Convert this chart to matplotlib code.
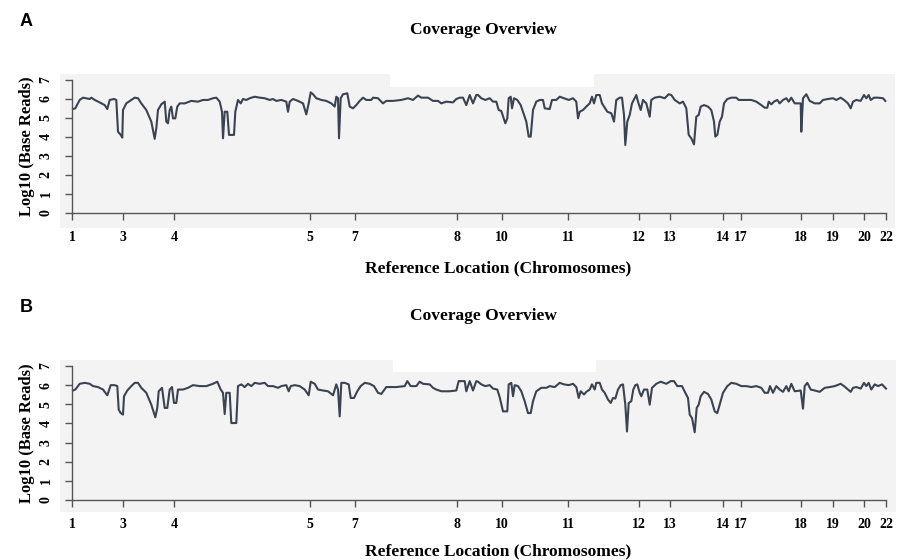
import numpy as np
import matplotlib
matplotlib.use('Agg')
import matplotlib.pyplot as plt
from matplotlib.patches import Rectangle

# posiciones de los cromosomas (unidades arbitrarias a lo largo del genoma)
chrom_pos = [0, 51, 102, 238, 283, 385, 430, 496, 567, 598, 651, 669, 729, 761, 792, 814]
chrom_labels = ['1', '3', '4', '5', '7', '8', '10', '11', '12', '13', '14', '17', '18', '19', '20', '22']

# Panel A: cobertura log10
pos_a = [1.0, 3.3, 7.7, 11.0, 17.7, 19.3, 22.7, 27.7, 32.7, 35.3, 37.7, 42.0, 44.3, 46.0, 48.7, 50.3,
         51.0, 54.3, 59.3, 62.7, 66.0, 69.3, 74.3, 79.3, 82.7, 84.3, 86.0, 89.3, 92.7, 94.3, 96.0, 97.7,
         99.3, 101.0, 103.3, 105.3, 107.7, 112.7, 119.3, 126.0, 131.0, 136.0, 141.0, 144.3, 147.7, 150.0,
         151.0, 152.7, 155.3, 157.0, 162.0, 163.3, 166.0, 168.7, 171.0, 174.3, 177.7, 182.7, 187.7, 192.7,
         197.7, 201.0, 204.3, 209.3, 214.3, 216.0, 217.7, 221.0, 226.0, 231.0, 234.3, 236.7, 238.7, 241.0,
         244.3, 249.3, 254.3, 259.3, 262.7, 264.3, 266.0, 267.0, 268.7, 271.0, 275.3, 277.7, 281.0, 284.3,
         287.7, 291.0, 294.3, 299.3, 301.0, 306.0, 311.0, 314.3, 321.0, 329.3, 336.0, 341.0, 346.0, 349.3,
         356.0, 361.0, 366.0, 369.3, 374.3, 381.0, 384.3, 387.7, 391.0, 394.3, 397.7, 401.0, 404.3,
         406.0, 409.3, 413.3, 417.7, 421.0, 424.3, 426.7, 429.3, 433.3, 435.3, 436.7, 438.7, 440.0, 442.0,
         445.3, 448.7, 451.0, 454.3, 456.7, 458.7, 461.0, 464.3, 467.7, 471.0, 472.7, 477.7, 480.0, 484.3,
         487.7, 492.0, 496.7, 501.0, 504.3, 506.0, 507.7, 511.0, 514.3, 517.7, 520.0, 522.0, 524.3, 527.7,
         530.0, 532.0, 535.3, 539.3, 542.0, 544.3, 547.7, 550.0, 552.0, 553.3, 555.3, 557.7, 560.0, 562.7,
         564.3, 566.0, 568.7, 571.0, 574.3, 577.7, 579.3, 582.7, 587.7, 592.7, 596.7, 599.3, 602.7, 607.7,
         611.0, 614.3, 616.7, 619.3, 622.0, 624.3, 626.7, 628.7, 632.0, 636.0, 639.3, 642.0, 643.3, 645.3,
         647.7, 650.0, 652.0, 655.3, 659.3, 664.3, 666.7, 672.7, 679.3, 684.3, 689.3, 692.7, 695.3, 696.7,
         699.3, 702.0, 705.3, 707.7, 711.0, 714.3, 716.7, 719.3, 722.7, 728.7, 729.3, 731.0, 734.3, 737.7,
         742.7, 747.7, 751.0, 756.0, 761.0, 764.3, 768.7, 772.0, 776.0, 778.7, 781.0, 784.3, 788.7, 792.0,
         794.3, 796.7, 798.7, 802.0, 806.0, 811.0, 813.3]
cov_a = [5.47, 5.51, 5.95, 6.07, 6.00, 6.07, 5.95, 5.82, 5.68, 5.47, 5.95, 6.00, 5.95, 4.28, 4.11, 3.97,
         5.42, 5.77, 5.95, 6.07, 6.04, 5.77, 5.42, 4.81, 3.90, 4.46, 5.42, 5.72, 5.86, 4.81, 4.72, 5.42,
         5.60, 4.98, 4.98, 5.60, 5.77, 5.77, 5.90, 5.86, 5.95, 5.95, 6.04, 6.07, 5.86, 5.33,
         3.93, 5.33, 5.33, 4.11, 4.11, 5.33, 5.95, 5.77, 6.00, 5.95, 6.04, 6.12, 6.07, 6.04,
         5.95, 6.00, 5.90, 5.95, 5.86, 5.33, 5.86, 6.00, 5.90, 5.77, 5.19, 5.77, 6.35, 6.25,
         6.04, 5.95, 5.90, 5.77, 5.60, 6.12, 6.04, 3.93, 6.04, 6.25, 6.30, 5.60, 5.51, 5.68,
         5.90, 6.07, 5.95, 5.95, 6.07, 6.04, 5.77, 5.90, 5.90, 5.95, 6.04, 5.95, 6.18, 6.07,
         6.07, 5.90, 5.90, 5.77, 5.86, 5.82, 6.00, 6.07, 6.07, 5.68, 6.21, 5.77, 6.21,
         6.21, 6.04, 5.95, 6.04, 5.86, 5.86, 5.42, 5.37, 4.72, 4.98, 6.04, 6.12, 5.51, 6.04,
         5.95, 5.68, 5.33, 4.81, 4.02, 4.02, 5.42, 5.86, 5.95, 5.95, 5.51, 5.47, 5.95, 5.95,
         6.12, 6.04, 5.95, 6.04, 5.86, 4.98, 5.33, 5.42, 5.60, 5.77, 6.12, 5.77, 6.21, 6.21,
         5.77, 5.60, 5.33, 5.25, 4.81, 5.95, 6.07, 6.07, 5.16, 3.58, 4.81, 5.16, 5.77, 6.04,
         6.21, 5.86, 5.42, 5.95, 5.77, 5.07, 5.95, 6.07, 6.12, 6.04, 6.25, 6.21, 5.95, 5.77,
         5.86, 5.51, 4.11, 3.93, 3.61, 5.07, 5.16, 5.60, 5.68, 5.60, 5.42, 4.81, 4.02, 4.11,
         4.81, 5.07, 5.77, 6.00, 6.07, 6.07, 5.95, 5.95, 5.95, 5.86, 5.68, 5.54, 5.54, 5.86,
         5.72, 5.86, 5.95, 5.77, 5.95, 6.04, 5.86, 6.07, 5.77, 5.77, 4.28, 6.04, 6.25, 5.90,
         5.77, 5.77, 5.95, 6.00, 6.04, 5.95, 6.07, 5.95, 5.77, 5.51, 5.86, 5.95, 5.90, 6.21,
         6.04, 6.21, 5.95, 6.07, 6.07, 6.04, 5.90]

# Panel B
pos_b = [1.0, 3.3, 7.7, 12.7, 17.7, 21.0, 26.0, 31.0, 35.3, 38.7, 42.7, 45.3, 46.7, 48.7, 51.0, 52.0,
         55.3, 59.3, 62.7, 66.0, 69.3, 74.3, 79.3, 83.3, 85.3, 86.7, 90.0, 92.7, 95.3, 97.7, 100.0, 102.0,
         104.3, 106.0, 111.0, 116.0, 121.0, 127.7, 134.3, 141.0, 145.3, 148.7, 151.0, 152.7, 154.3, 157.7,
         159.3, 164.3, 166.0, 169.3, 172.7, 176.0, 179.3, 182.7, 187.7, 192.7, 196.0, 201.0, 206.0, 209.3,
         214.3, 216.7, 218.7, 222.7, 227.7, 232.7, 236.7, 238.7, 242.7, 246.0, 251.0, 256.0, 261.0, 264.3,
         266.0, 267.7, 269.3, 272.7, 276.7, 278.7, 282.0, 285.3, 288.7, 292.7, 297.7, 302.0, 306.0, 309.3,
         314.3, 324.3, 332.7, 335.3, 338.7, 344.3, 347.7, 351.0, 357.7, 361.0, 364.3, 369.3, 377.7, 384.3,
         386.7, 392.7, 394.3, 397.7, 401.0, 404.3,
         406.0, 409.3, 413.3, 417.7, 421.0, 425.3, 427.7, 431.0, 435.3, 436.7, 439.3, 441.0, 442.7, 446.0,
         449.3, 452.7, 456.0, 458.7, 461.0, 464.3, 469.3, 474.3, 477.7, 482.7, 487.7, 492.0, 496.7, 501.0,
         504.3, 506.7, 508.7, 512.0, 514.3, 517.7, 520.0, 522.7, 524.3, 527.7, 530.0, 532.7, 536.0, 538.7,
         541.0, 543.3, 546.0, 548.7, 551.0, 553.3, 555.0, 556.7, 559.3, 561.3, 563.3, 565.3, 567.7, 569.3,
         572.0, 575.3, 577.7, 580.0, 584.3, 588.7, 594.3, 598.7, 602.0, 605.3, 610.0, 613.3, 616.0, 617.7,
         620.0, 622.7, 624.7, 626.7, 628.7, 632.0, 636.0, 639.3, 642.7, 645.3, 647.7, 651.0, 655.3, 659.3,
         664.3, 669.3, 674.3, 679.3, 684.3, 689.3, 692.7, 696.0, 698.0, 701.0, 704.3, 707.7, 711.0, 714.3,
         716.7, 719.3, 722.7, 728.7, 731.0, 732.7, 735.3, 738.7, 742.7, 747.7, 752.7, 757.7, 762.7, 768.7,
         772.0, 776.0, 778.7, 781.0, 784.3, 788.7, 792.0, 794.3, 796.7, 799.3, 802.7, 806.0, 810.0, 814.0]
cov_b = [5.72, 5.77, 6.07, 6.12, 6.07, 5.95, 5.90, 5.77, 5.47, 6.00, 6.00, 5.95, 4.72, 4.54, 4.46, 5.42,
         5.72, 5.95, 6.12, 6.12, 5.86, 5.60, 4.98, 4.32, 4.81, 5.68, 5.86, 4.81, 4.81, 5.77, 5.90, 5.07,
         5.07, 5.77, 5.77, 5.86, 6.00, 5.95, 5.95, 6.07, 6.18, 5.77, 5.60, 4.49, 5.60, 5.60,
         4.02, 4.02, 5.95, 6.04, 5.90, 6.07, 5.95, 6.12, 6.07, 6.12, 5.95, 5.95, 5.86, 5.95,
         6.00, 5.68, 5.95, 6.00, 5.95, 5.77, 5.47, 6.18, 6.07, 5.77, 5.72, 5.68, 5.47, 6.04,
         5.77, 4.37, 6.12, 6.12, 6.04, 5.33, 5.33, 5.68, 5.95, 6.12, 6.07, 5.95, 5.60, 5.54,
         5.90, 5.90, 5.95, 6.21, 5.95, 5.95, 6.18, 6.07, 6.04, 5.86, 5.77, 5.68, 5.68, 5.72,
         6.21, 6.21, 5.68, 6.21, 5.72, 6.21,
         6.18, 6.04, 5.95, 6.00, 5.82, 5.77, 5.37, 4.63, 4.63, 6.04, 6.12, 5.42, 6.00, 5.95,
         5.68, 5.16, 4.54, 4.54, 5.16, 5.68, 5.86, 5.86, 5.95, 5.90, 6.12, 6.04, 6.00, 6.07,
         5.90, 5.33, 5.68, 5.51, 5.65, 5.77, 6.04, 5.77, 6.12, 6.12, 5.77, 5.60, 5.25, 5.07,
         5.33, 5.30, 5.77, 6.00, 6.04, 4.98, 3.58, 5.07, 5.16, 5.77, 6.00, 6.04, 5.60, 5.42,
         5.77, 5.77, 4.98, 5.86, 6.07, 6.18, 6.07, 6.21, 6.21, 5.95, 5.95, 5.60, 5.33, 4.46,
         4.28, 3.54, 4.81, 4.98, 5.42, 5.65, 5.54, 5.25, 4.63, 4.54, 4.98, 5.60, 5.95, 6.12,
         6.07, 5.95, 5.95, 5.90, 5.95, 5.86, 5.60, 5.60, 5.95, 5.60, 5.95, 5.77, 5.65, 5.95,
         5.68, 6.07, 5.68, 5.72, 4.77, 5.95, 6.12, 5.77, 5.72, 5.65, 5.86, 5.90, 5.95, 6.07,
         5.95, 5.77, 5.65, 5.86, 5.90, 5.82, 6.12, 5.95, 6.12, 5.77, 6.04, 5.95, 6.04, 5.82]

W, H = 900, 560
fig = plt.figure(figsize=(9, 5.6), dpi=100)

serif = ['Liberation Serif', 'DejaVu Serif']
sans = ['Liberation Sans', 'DejaVu Sans']
line_col = '#3c4350'
axis_col = '#555555'
bg_col = '#f3f3f3'


def px_rect(x0, y0, x1, y1, color):
    # rectangulo en pixeles de la figura (origen arriba a la izquierda)
    fig.patches.append(Rectangle((x0 / W, 1 - y1 / H), (x1 - x0) / W, (y1 - y0) / H,
                                 transform=fig.transFigure, facecolor=color,
                                 edgecolor='none', zorder=-5))


def panel(pos, cov, top_px, bot_px, bg, notch, letter, letter_y, title_y, xlab_y):
    px_rect(*bg, bg_col)
    px_rect(*notch, 'white')
    ax = fig.add_axes([72 / W, 1 - bot_px / H, 814 / W, (bot_px - top_px) / H])
    ax.set_facecolor('none')
    ax.plot(pos, cov, color=line_col, lw=1.5, clip_on=False)
    ax.set_xlim(0, 814)
    ax.set_ylim(0, 7)
    for s in ['top', 'right']:
        ax.spines[s].set_visible(False)
    for s in ['left', 'bottom']:
        ax.spines[s].set_color(axis_col)
        ax.spines[s].set_linewidth(1.0)
    ax.spines['left'].set_bounds(0, 7)
    ax.spines['bottom'].set_bounds(0, 814)
    ax.set_xticks(chrom_pos)
    ax.set_xticklabels(chrom_labels, fontfamily=serif, fontweight='bold', fontsize=10)
    ax.set_yticks(range(8))
    ax.set_yticklabels([str(i) for i in range(8)], fontfamily=serif, fontweight='bold',
                       fontsize=10, rotation=90, va='center')
    ax.tick_params(direction='out', length=5, width=1.0, color=axis_col)
    ax.tick_params(axis='x', pad=8)
    ax.tick_params(axis='y', pad=9)
    ax.set_ylabel('Log10 (Base Reads)', fontfamily=serif, fontweight='bold', fontsize=12)
    ax.yaxis.set_label_coords(-0.046, 0.5)
    fig.text(20 / W, 1 - letter_y / H, letter, fontfamily=sans, fontweight='bold',
             fontsize=13, ha='left', va='center')
    fig.text(483 / W, 1 - title_y / H, 'Coverage Overview', fontfamily=serif,
             fontweight='bold', fontsize=12.5, ha='center', va='center')
    fig.text(498 / W, 1 - xlab_y / H, 'Reference Location (Chromosomes)', fontfamily=serif,
             fontweight='bold', fontsize=12.5, ha='center', va='center')
    return ax


panel(pos_a, cov_a, 80, 213, (60, 74, 895, 228), (390, 74, 594, 87), 'A', 22, 30, 268)
panel(pos_b, cov_b, 366, 500, (60, 360, 896, 512), (393, 360, 596, 372), 'B', 308, 316, 551)

plt.savefig('out.png', dpi=100)
